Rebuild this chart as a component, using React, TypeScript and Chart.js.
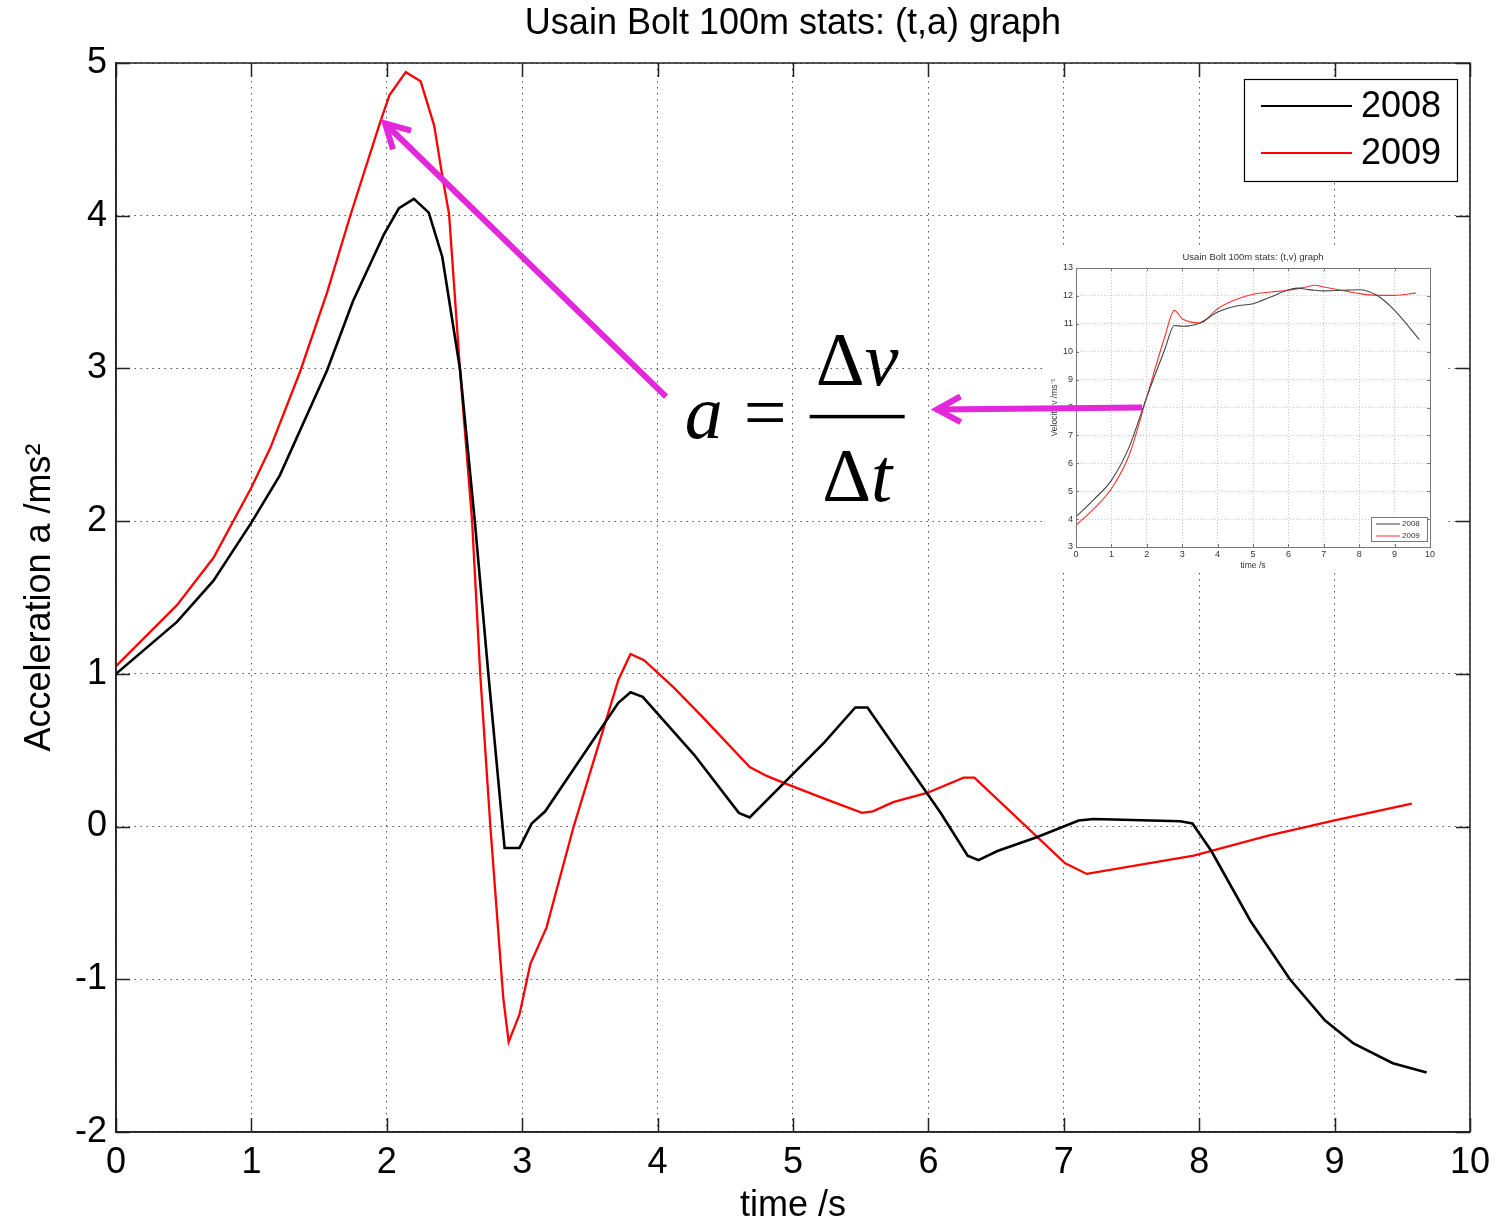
import React, { useEffect, useRef } from "react";
import { Chart, registerables } from "chart.js";

Chart.register(...registerables);

const SANS = "'Liberation Sans', Arial, Helvetica, sans-serif";
const SERIF = "'Liberation Serif', 'Times New Roman', serif";

// ---------- main (t,a) chart data ----------
const TITLE = "Usain Bolt 100m stats: (t,a) graph";
const X_LABEL = "time /s";
const Y_LABEL = "Acceleration a /ms²";
const SERIES_LABELS = ["2008", "2009"];

const t2008 = [0, 0.45, 0.72, 1.0, 1.21, 1.56, 1.75, 1.98, 2.09, 2.2, 2.31, 2.41, 2.54, 2.65, 2.75, 2.87, 2.98, 3.07, 3.17, 3.71, 3.8, 3.89, 4.27, 4.6, 4.68, 5.23, 5.46, 5.55, 6.09, 6.29, 6.37, 6.51, 6.8, 7.11, 7.22, 7.86, 7.95, 8.09, 8.38, 8.67, 8.93, 9.14, 9.43, 9.68];
const a2008 = [1.0, 1.34, 1.61, 1.99, 2.3, 2.99, 3.44, 3.88, 4.05, 4.11, 4.02, 3.73, 3.0, 2.0, 1.0, -0.14, -0.14, 0.02, 0.1, 0.81, 0.88, 0.85, 0.47, 0.09, 0.06, 0.55, 0.78, 0.78, 0.09, -0.19, -0.22, -0.16, -0.07, 0.04, 0.05, 0.035, 0.02, -0.16, -0.62, -1.0, -1.27, -1.42, -1.55, -1.61];

const t2009 = [0, 0.45, 0.72, 1.0, 1.14, 1.36, 1.56, 1.73, 1.95, 2.02, 2.14, 2.25, 2.35, 2.41, 2.46, 2.54, 2.63, 2.69, 2.765, 2.86, 2.9, 2.98, 3.06, 3.18, 3.38, 3.71, 3.8, 3.9, 4.12, 4.34, 4.68, 4.81, 4.95, 5.27, 5.51, 5.59, 5.74, 5.99, 6.26, 6.34, 7.01, 7.17, 7.96, 8.51, 9.0, 9.57];
const a2009 = [1.05, 1.45, 1.76, 2.22, 2.48, 2.98, 3.5, 4.0, 4.61, 4.79, 4.94, 4.88, 4.59, 4.26, 4.01, 3.0, 2.0, 1.0, 0.0, -1.12, -1.41, -1.23, -0.9, -0.66, 0.0, 0.96, 1.13, 1.09, 0.91, 0.71, 0.39, 0.33, 0.28, 0.17, 0.09, 0.1, 0.16, 0.22, 0.32, 0.32, -0.24, -0.31, -0.19, -0.06, 0.04, 0.15];

const X_MIN = 0, X_MAX = 10, Y_MIN = -2, Y_MAX = 5;

// ---------- inset (t,v) chart data ----------
const INSET_TITLE = "Usain Bolt 100m stats: (t,v) graph";
const INSET_X_LABEL = "time /s";
const INSET_Y_LABEL = "Velocity v /ms⁻¹";

const tv2008 = [0, 0.5, 1, 1.5, 2, 2.5, 2.78, 3, 3.5, 4, 4.5, 5, 5.5, 6, 6.25, 6.5, 6.75, 7, 7.5, 8, 8.5, 9, 9.7];
const v2008 = [4.08, 4.7, 5.39, 6.58, 8.38, 10.05, 10.94, 10.91, 11.03, 11.42, 11.63, 11.72, 11.96, 12.22, 12.28, 12.24, 12.2, 12.18, 12.2, 12.22, 12.02, 11.48, 10.43];
const tv2009 = [0, 0.5, 1, 1.5, 2, 2.5, 2.78, 3, 3.5, 4, 4.5, 5, 5.5, 6, 6.5, 6.75, 7, 7.5, 8, 8.5, 9, 9.6];
const v2009 = [3.78, 4.37, 5.09, 6.29, 8.38, 10.5, 11.48, 11.18, 11.03, 11.54, 11.86, 12.06, 12.14, 12.2, 12.32, 12.38, 12.32, 12.2, 12.08, 12.02, 12.02, 12.1];

const IX_MIN = 0, IX_MAX = 10, IY_MIN = 3, IY_MAX = 13;

// ---------- annotations (in main-chart data coordinates) ----------
const FORMULA_ANCHOR = [4.2, 2.547]; // left / baseline of "a"
const ARROWS = [
  { from: [4.062, 2.816], to: [1.987, 4.604] },
  { from: [7.578, 2.744], to: [6.063, 2.731] },
];

const COLOR_2008 = "#000000";
const COLOR_2009 = "#ff0000";
const MAGENTA = "rgb(226,40,218)";

const toXY = (xs: number[], ys: number[]) => xs.map((x, i) => ({ x, y: ys[i] }));

function drawArrow(ctx: CanvasRenderingContext2D, x1: number, y1: number, x2: number, y2: number) {
  ctx.save();
  ctx.strokeStyle = MAGENTA;
  ctx.lineWidth = 6;
  ctx.lineCap = "butt";
  ctx.beginPath();
  ctx.moveTo(x1, y1);
  ctx.lineTo(x2, y2);
  ctx.stroke();
  const ang = Math.atan2(y2 - y1, x2 - x1);
  const hl = 24;
  const spread = 0.5;
  ctx.lineCap = "square";
  ctx.lineJoin = "miter";
  ctx.beginPath();
  ctx.moveTo(x2 - hl * Math.cos(ang - spread), y2 - hl * Math.sin(ang - spread));
  ctx.lineTo(x2, y2);
  ctx.lineTo(x2 - hl * Math.cos(ang + spread), y2 - hl * Math.sin(ang + spread));
  ctx.stroke();
  ctx.restore();
}

const mainDecor = {
  id: "mainDecor",
  afterDraw(chart: any) {
    const ctx: CanvasRenderingContext2D = chart.ctx;
    const { left, right, top, bottom } = chart.chartArea;
    const xs = chart.scales.x;
    const ys = chart.scales.y;
    ctx.save();
    // box
    ctx.strokeStyle = "#222";
    ctx.lineWidth = 1.5;
    ctx.strokeRect(left, top, right - left, bottom - top);
    // inward ticks
    ctx.beginPath();
    for (let t = X_MIN; t <= X_MAX; t++) {
      const x = Math.round(xs.getPixelForValue(t)) + 0.5;
      ctx.moveTo(x, bottom); ctx.lineTo(x, bottom - 14);
      ctx.moveTo(x, top); ctx.lineTo(x, top + 14);
    }
    for (let a = Y_MIN; a <= Y_MAX; a++) {
      const y = Math.round(ys.getPixelForValue(a)) + 0.5;
      ctx.moveTo(left, y); ctx.lineTo(left + 14, y);
      ctx.moveTo(right, y); ctx.lineTo(right - 14, y);
    }
    ctx.stroke();

    // title
    ctx.fillStyle = "#000";
    ctx.font = `36px ${SANS}`;
    ctx.textAlign = "center";
    ctx.textBaseline = "middle";
    ctx.fillText(TITLE, (left + right) / 2, 24);

    // legend
    const lx = right - 226, ly = top + 16, lw = 213, lh = 102;
    ctx.fillStyle = "#fff";
    ctx.fillRect(lx, ly, lw, lh);
    ctx.strokeStyle = "#000";
    ctx.lineWidth = 1.2;
    ctx.strokeRect(lx + 0.5, ly + 0.5, lw, lh);
    const rows = [
      { label: SERIES_LABELS[0], color: COLOR_2008, y: ly + 27 },
      { label: SERIES_LABELS[1], color: COLOR_2009, y: ly + 74 },
    ];
    for (const r of rows) {
      ctx.strokeStyle = r.color;
      ctx.lineWidth = 2;
      ctx.beginPath();
      ctx.moveTo(lx + 17, r.y);
      ctx.lineTo(lx + 108, r.y);
      ctx.stroke();
      ctx.fillStyle = "#000";
      ctx.font = `36px ${SANS}`;
      ctx.textAlign = "left";
      ctx.textBaseline = "middle";
      ctx.fillText(r.label, lx + 117, r.y + 1);
    }

    // formula a = Δv / Δt
    const fx = xs.getPixelForValue(FORMULA_ANCHOR[0]);
    const fy = ys.getPixelForValue(FORMULA_ANCHOR[1]);
    ctx.fillStyle = "#000";
    ctx.textAlign = "left";
    ctx.textBaseline = "alphabetic";
    ctx.font = `italic 76px ${SERIF}`;
    ctx.fillText("a", fx, fy);
    ctx.font = `76px ${SERIF}`;
    ctx.fillText("=", fx + 59, fy);
    const barL = fx + 125, barR = fx + 220, barY = fy - 21;
    ctx.fillRect(barL, barY - 1.75, barR - barL, 3.5);
    const cx = (barL + barR) / 2;
    const drawFrac = (sym: string, baseY: number) => {
      ctx.font = `76px ${SERIF}`;
      const wD = ctx.measureText("Δ").width;
      ctx.font = `italic 76px ${SERIF}`;
      const wS = ctx.measureText(sym).width;
      const start = cx - (wD + wS) / 2;
      ctx.font = `76px ${SERIF}`;
      ctx.fillText("Δ", start, baseY);
      ctx.font = `italic 76px ${SERIF}`;
      ctx.fillText(sym, start + wD, baseY);
    };
    drawFrac("v", fy - 53);
    drawFrac("t", fy + 63);
    ctx.restore();
  },
};

const insetDecor = {
  id: "insetDecor",
  beforeDraw(chart: any) {
    const ctx: CanvasRenderingContext2D = chart.ctx;
    ctx.save();
    ctx.fillStyle = "#fff";
    ctx.fillRect(0, 0, chart.width, chart.height);
    ctx.restore();
  },
  afterDraw(chart: any) {
    const ctx: CanvasRenderingContext2D = chart.ctx;
    const { left, right, top, bottom } = chart.chartArea;
    const xs = chart.scales.x;
    const ys = chart.scales.y;
    ctx.save();
    ctx.strokeStyle = "#777";
    ctx.lineWidth = 1;
    ctx.strokeRect(left + 0.5, top + 0.5, right - left, bottom - top);
    ctx.beginPath();
    for (let t = IX_MIN; t <= IX_MAX; t++) {
      const x = Math.round(xs.getPixelForValue(t)) + 0.5;
      ctx.moveTo(x, bottom); ctx.lineTo(x, bottom - 3);
      ctx.moveTo(x, top); ctx.lineTo(x, top + 3);
    }
    for (let v = IY_MIN; v <= IY_MAX; v++) {
      const y = Math.round(ys.getPixelForValue(v)) + 0.5;
      ctx.moveTo(left, y); ctx.lineTo(left + 3, y);
      ctx.moveTo(right, y); ctx.lineTo(right - 3, y);
    }
    ctx.stroke();
    // title
    ctx.fillStyle = "#333";
    ctx.font = `9.5px ${SANS}`;
    ctx.textAlign = "center";
    ctx.textBaseline = "middle";
    ctx.fillText(INSET_TITLE, (left + right) / 2, 9);
    // legend
    const lx = right - 59, ly = bottom - 30, lw = 56, lh = 24;
    ctx.fillStyle = "#fff";
    ctx.fillRect(lx, ly, lw, lh);
    ctx.strokeStyle = "#777";
    ctx.strokeRect(lx + 0.5, ly + 0.5, lw, lh);
    const rows = [
      { label: SERIES_LABELS[0], color: "#444", y: ly + 7 },
      { label: SERIES_LABELS[1], color: "#ff3030", y: ly + 19 },
    ];
    for (const r of rows) {
      ctx.strokeStyle = r.color;
      ctx.lineWidth = 1;
      ctx.beginPath();
      ctx.moveTo(lx + 5, r.y);
      ctx.lineTo(lx + 29, r.y);
      ctx.stroke();
      ctx.fillStyle = "#333";
      ctx.font = `8px ${SANS}`;
      ctx.textAlign = "left";
      ctx.textBaseline = "middle";
      ctx.fillText(r.label, lx + 31, r.y);
    }
    ctx.restore();
  },
};

export default function App() {
  const mainRef = useRef<HTMLCanvasElement>(null);
  const insetRef = useRef<HTMLCanvasElement>(null);
  const overRef = useRef<HTMLCanvasElement>(null);

  useEffect(() => {
    document.body.style.margin = "0";
    const main = new Chart(mainRef.current as HTMLCanvasElement, {
      type: "line",
      data: {
        datasets: [
          {
            label: SERIES_LABELS[0],
            data: toXY(t2008, a2008),
            borderColor: COLOR_2008,
            borderWidth: 2.6,
            pointRadius: 0,
            tension: 0,
            fill: false,
          },
          {
            label: SERIES_LABELS[1],
            data: toXY(t2009, a2009),
            borderColor: COLOR_2009,
            borderWidth: 2.3,
            pointRadius: 0,
            tension: 0,
            fill: false,
          },
        ],
      },
      options: {
        responsive: false,
        animation: false,
        events: [],
        layout: { padding: { top: 63, right: 29, left: 0, bottom: 0 } },
        plugins: { legend: { display: false }, title: { display: false }, tooltip: { enabled: false } },
        scales: {
          x: {
            type: "linear",
            min: X_MIN,
            max: X_MAX,
            afterFit: (s: any) => { s.height = 91; },
            ticks: { stepSize: 1, color: "#000", font: { family: SANS, size: 36 }, padding: 9, maxRotation: 0, autoSkip: false },
            grid: { color: "#555", lineWidth: 1, drawTicks: false },
            border: { display: true, color: "#222", width: 1.5, dash: [1.5, 4.5] },
            title: { display: true, text: X_LABEL, color: "#000", font: { family: SANS, size: 36, lineHeight: 1 }, padding: { top: 0, bottom: -1 } },
          },
          y: {
            type: "linear",
            min: Y_MIN,
            max: Y_MAX,
            afterFit: (s: any) => { s.width = 116; },
            ticks: { stepSize: 1, color: "#000", font: { family: SANS, size: 36 }, padding: 9 },
            grid: { color: "#555", lineWidth: 1, drawTicks: false },
            border: { display: true, color: "#222", width: 1.5, dash: [1.5, 4.5] },
            title: { display: true, text: Y_LABEL, color: "#000", font: { family: SANS, size: 36, lineHeight: 1 }, padding: { top: 22, bottom: 0 } },
          },
        },
      } as any,
      plugins: [mainDecor],
    });

    const inset = new Chart(insetRef.current as HTMLCanvasElement, {
      type: "line",
      data: {
        datasets: [
          {
            label: SERIES_LABELS[0],
            data: toXY(tv2008, v2008),
            borderColor: "#444",
            borderWidth: 1.1,
            pointRadius: 0,
            cubicInterpolationMode: "monotone",
            fill: false,
          },
          {
            label: SERIES_LABELS[1],
            data: toXY(tv2009, v2009),
            borderColor: "#ff3030",
            borderWidth: 1.1,
            pointRadius: 0,
            cubicInterpolationMode: "monotone",
            fill: false,
          },
        ],
      },
      options: {
        responsive: false,
        animation: false,
        events: [],
        layout: { padding: { top: 20, right: 15, left: 0, bottom: 0 } },
        plugins: { legend: { display: false }, title: { display: false }, tooltip: { enabled: false } },
        scales: {
          x: {
            type: "linear",
            min: IX_MIN,
            max: IX_MAX,
            afterFit: (s: any) => { s.height = 25; },
            ticks: { stepSize: 1, color: "#333", font: { family: SANS, size: 9 }, padding: 2, maxRotation: 0, autoSkip: false },
            grid: { color: "#c8c8c8", lineWidth: 1, drawTicks: false },
            border: { display: true, color: "#777", width: 1, dash: [1, 2] },
            title: { display: true, text: INSET_X_LABEL, color: "#333", font: { family: SANS, size: 8.5, lineHeight: 1 }, padding: { top: 0, bottom: 2 } },
          },
          y: {
            type: "linear",
            min: IY_MIN,
            max: IY_MAX,
            afterFit: (s: any) => { s.width = 33; },
            ticks: { stepSize: 1, color: "#333", font: { family: SANS, size: 9 }, padding: 3 },
            grid: { color: "#c8c8c8", lineWidth: 1, drawTicks: false },
            border: { display: true, color: "#777", width: 1, dash: [1, 2] },
            title: { display: true, text: INSET_Y_LABEL, color: "#333", font: { family: SANS, size: 8.5, lineHeight: 1 }, padding: { top: 7, bottom: 0 } },
          },
        },
      } as any,
      plugins: [insetDecor],
    });

    const oc = overRef.current as HTMLCanvasElement;
    const octx = oc.getContext("2d") as CanvasRenderingContext2D;
    octx.clearRect(0, 0, oc.width, oc.height);
    const xs: any = main.scales.x;
    const ys: any = main.scales.y;
    for (const ar of ARROWS) {
      drawArrow(
        octx,
        xs.getPixelForValue(ar.from[0]),
        ys.getPixelForValue(ar.from[1]),
        xs.getPixelForValue(ar.to[0]),
        ys.getPixelForValue(ar.to[1])
      );
    }

    return () => {
      main.destroy();
      inset.destroy();
      octx.clearRect(0, 0, oc.width, oc.height);
    };
  }, []);

  return (
    <div style={{ position: "relative", width: 1499, height: 1223, overflow: "hidden", background: "#fff" }}>
      <canvas ref={mainRef} width={1499} height={1223} style={{ position: "absolute", left: 0, top: 0, width: 1499, height: 1223 }} />
      <canvas ref={insetRef} width={402} height={324} style={{ position: "absolute", left: 1043, top: 248, width: 402, height: 324 }} />
      <canvas ref={overRef} width={1499} height={1223} style={{ position: "absolute", left: 0, top: 0, width: 1499, height: 1223, pointerEvents: "none" }} />
    </div>
  );
}
